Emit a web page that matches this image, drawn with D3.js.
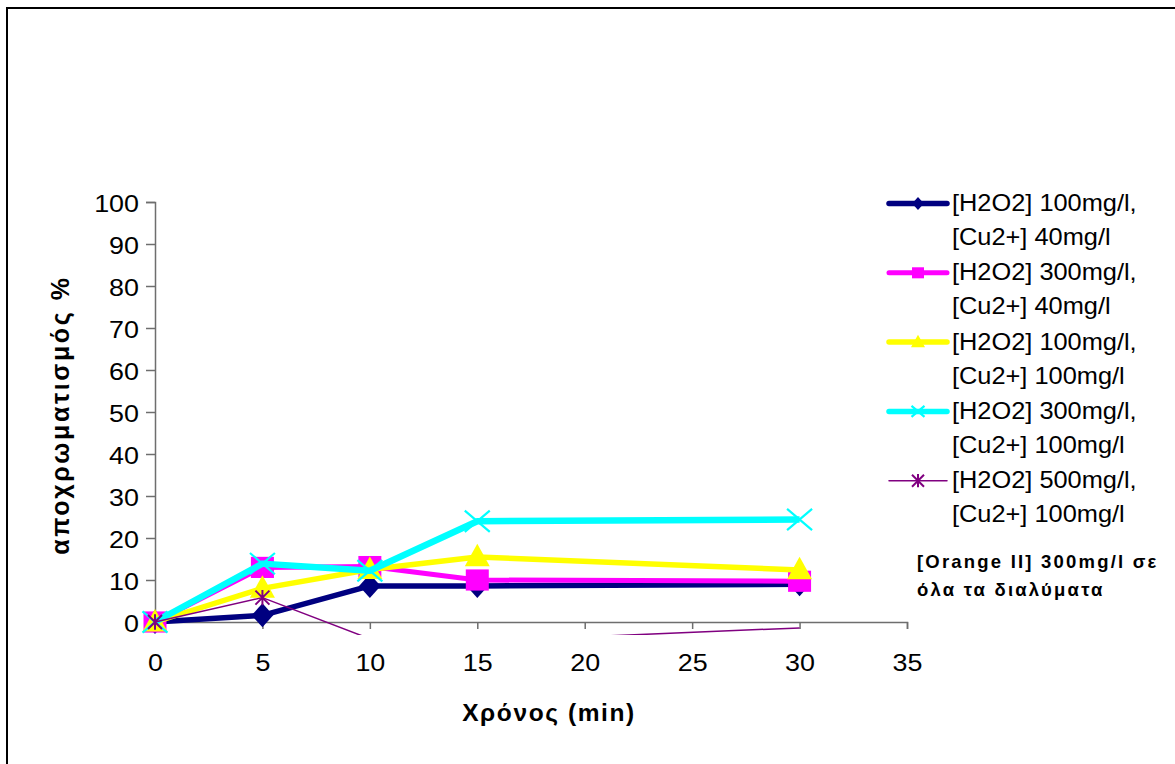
<!DOCTYPE html>
<html>
<head>
<meta charset="utf-8">
<script src="https://cdn.jsdelivr.net/npm/d3@7"></script>
<style>
  html, body { margin: 0; padding: 0; background: #fff; }
  svg { display: block; }
  text { font-family: "Liberation Sans", Arial, sans-serif; fill: #000; }
</style>
</head>
<body>
<svg id="chart" width="1175" height="764"></svg>
<script>
// Time points (min)
const times = [0, 5, 10, 15, 30];

// Decolourisation (%) per experimental condition
const seriesNames = [
  ["[H2O2] 100mg/l,", "[Cu2+] 40mg/l"],
  ["[H2O2] 300mg/l,", "[Cu2+] 40mg/l"],
  ["[H2O2] 100mg/l,", "[Cu2+] 100mg/l"],
  ["[H2O2] 300mg/l,", "[Cu2+] 100mg/l"],
  ["[H2O2] 500mg/l,", "[Cu2+] 100mg/l"]
];
const h2o2_100_cu_40  = [0, 1.6, 8.6, 8.6, 9.0];
const h2o2_300_cu_40  = [0, 13.0, 13.2, 10.0, 9.7];
const h2o2_100_cu_100 = [0, 8.0, 12.5, 15.5, 12.4];
const h2o2_300_cu_100 = [0, 13.9, 12.2, 24.0, 24.4];
const h2o2_500_cu_100 = [0, 5.8, -4.0, -4.6, -1.4];

const xTicks = [0, 5, 10, 15, 20, 25, 30, 35];
const yTicks = [0, 10, 20, 30, 40, 50, 60, 70, 80, 90, 100];

const xTitle = "Χρόνος (min)";
const yTitle = "αποχρωματισμός %";
const noteLines = ["[Orange II] 300mg/l σε", "όλα τα διαλύματα"];

const allValues = [h2o2_100_cu_40, h2o2_300_cu_40, h2o2_100_cu_100, h2o2_300_cu_100, h2o2_500_cu_100];
const styles = [
  { color: "#000080", width: 5.5, marker: "diamond",  size: 24, legendSize: 13 },
  { color: "#ff00ff", width: 5,   marker: "square",   size: 23, legendSize: 12 },
  { color: "#ffff00", width: 5.5, marker: "triangle", size: 25, legendSize: 14 },
  { color: "#00ffff", width: 6.5, marker: "cross",    size: 25, legendSize: 13 },
  { color: "#800080", width: 1.5, marker: "star",     size: 14, legendSize: 12 }
];

const svg = d3.select("#chart");

// Chart frame
svg.append("rect")
  .attr("x", 7).attr("y", 8).attr("width", 1200).attr("height", 800)
  .attr("fill", "#fff").attr("stroke", "#000").attr("stroke-width", 2);

const x = d3.scaleLinear().domain([0, 35]).range([155, 907]);
const y = d3.scaleLinear().domain([0, 100]).range([622, 202]);

// Marker shape generators, centred on (0,0)
function drawMarker(g, kind, s, color) {
  const h = s / 2;
  if (kind === "diamond") {
    g.append("path").attr("d", `M0,${-h}L${h * 0.9},0L0,${h}L${-h * 0.9},0Z`).attr("fill", color);
  } else if (kind === "square") {
    g.append("rect").attr("x", -h).attr("y", -h * 0.92).attr("width", s).attr("height", s * 0.92).attr("fill", color);
  } else if (kind === "triangle") {
    g.append("path").attr("d", `M0,${-h * 1.05}L${h},${h * 0.75}L${-h},${h * 0.75}Z`).attr("fill", color);
  } else if (kind === "cross") {
    g.append("path").attr("d", `M${-h},${-h * 0.85}L${h},${h * 0.85}M${h},${-h * 0.85}L${-h},${h * 0.85}`)
      .attr("stroke", color).attr("stroke-width", 2.2).attr("fill", "none");
  } else if (kind === "star") {
    g.append("path").attr("d", `M${-h},${-h}L${h},${h}M${h},${-h}L${-h},${h}M0,${-h * 1.1}L0,${h * 1.1}`)
      .attr("stroke", color).attr("stroke-width", 2).attr("fill", "none");
  }
}

// Axes (labels use a slightly widened face)
const tickFont = 24, tickStretch = 1.12;
const xAxis = d3.axisBottom(x).tickValues(xTicks).tickSize(7).tickPadding(0).tickFormat(d3.format("d"));
const gx = svg.append("g").attr("transform", `translate(0,${y(0)})`).call(xAxis);
gx.select(".domain").attr("stroke", "#6e6e6e").attr("stroke-width", 1.5);
gx.selectAll(".tick line").attr("stroke", "#6e6e6e").attr("stroke-width", 1.5);
gx.selectAll(".tick text")
  .attr("font-size", tickFont).attr("font-family", "Liberation Sans, Arial, sans-serif").attr("fill", "#000")
  .attr("y", 0).attr("dy", null)
  .attr("transform", `translate(0,49) scale(${tickStretch},1)`);

const yAxis = d3.axisLeft(y).tickValues(yTicks).tickSize(9).tickPadding(0).tickFormat(d3.format("d"));
const gy = svg.append("g").attr("transform", `translate(${x(0)},0)`).call(yAxis);
gy.select(".domain").attr("stroke", "#6e6e6e").attr("stroke-width", 1.5);
gy.selectAll(".tick line").attr("stroke", "#6e6e6e").attr("stroke-width", 1.5);
gy.selectAll(".tick text")
  .attr("font-size", tickFont).attr("font-family", "Liberation Sans, Arial, sans-serif").attr("fill", "#000")
  .attr("x", 0).attr("dy", null)
  .attr("transform", `translate(-16,9.5) scale(${tickStretch},1)`);

// Axis titles
svg.append("text").attr("x", 549).attr("y", 721).attr("text-anchor", "middle")
  .attr("font-size", 24.5).attr("font-weight", "bold").attr("letter-spacing", 1.6).text(xTitle);
svg.append("text").attr("transform", "translate(69,415) rotate(-90)").attr("text-anchor", "middle")
  .attr("font-size", 25).attr("font-weight", "bold").attr("letter-spacing", 2.6).text(yTitle);

// Data series: lines clipped slightly below the zero line
svg.append("clipPath").attr("id", "plotClip")
  .append("rect").attr("x", 100).attr("y", 150).attr("width", 860).attr("height", 485);

const plot = svg.append("g").attr("clip-path", "url(#plotClip)");
const line = d3.line().x((d, i) => x(times[i])).y(d => y(d));

allValues.forEach((vals, si) => {
  const st = styles[si];
  const g = plot.append("g");
  g.append("path").datum(vals).attr("d", line)
    .attr("fill", "none").attr("stroke", st.color).attr("stroke-width", st.width)
    .attr("stroke-linejoin", "round");
  // markers only for points inside the axis range
  vals.forEach((v, i) => {
    if (v < y.domain()[0]) return;
    const m = g.append("g").attr("transform", `translate(${x(times[i])},${y(v)})`);
    drawMarker(m, st.marker, st.size, st.color);
  });
});

// Legend
const legend = svg.append("g");
const legendTop = 203.5, legendStep = 69.3;
seriesNames.forEach((lines, si) => {
  const st = styles[si];
  const ly = legendTop + si * legendStep;
  legend.append("line").attr("x1", 889).attr("x2", 947).attr("y1", ly).attr("y2", ly)
    .attr("stroke", st.color).attr("stroke-width", Math.min(st.width, 5.5)).attr("stroke-linecap", "round");
  const m = legend.append("g").attr("transform", `translate(918,${ly})`);
  drawMarker(m, st.marker, st.legendSize, st.color);
  lines.forEach((t, li) => {
    legend.append("text").attr("transform", `translate(952,${ly + 7.5 + li * 34}) scale(1.08,1)`)
      .attr("font-size", 23.5).text(t);
  });
});

// Note under the legend
noteLines.forEach((t, i) => {
  svg.append("text").attr("x", 917).attr("y", 568 + i * 28)
    .attr("font-size", 18.5).attr("font-weight", "bold").attr("letter-spacing", 2.2).text(t);
});
</script>
</body>
</html>
